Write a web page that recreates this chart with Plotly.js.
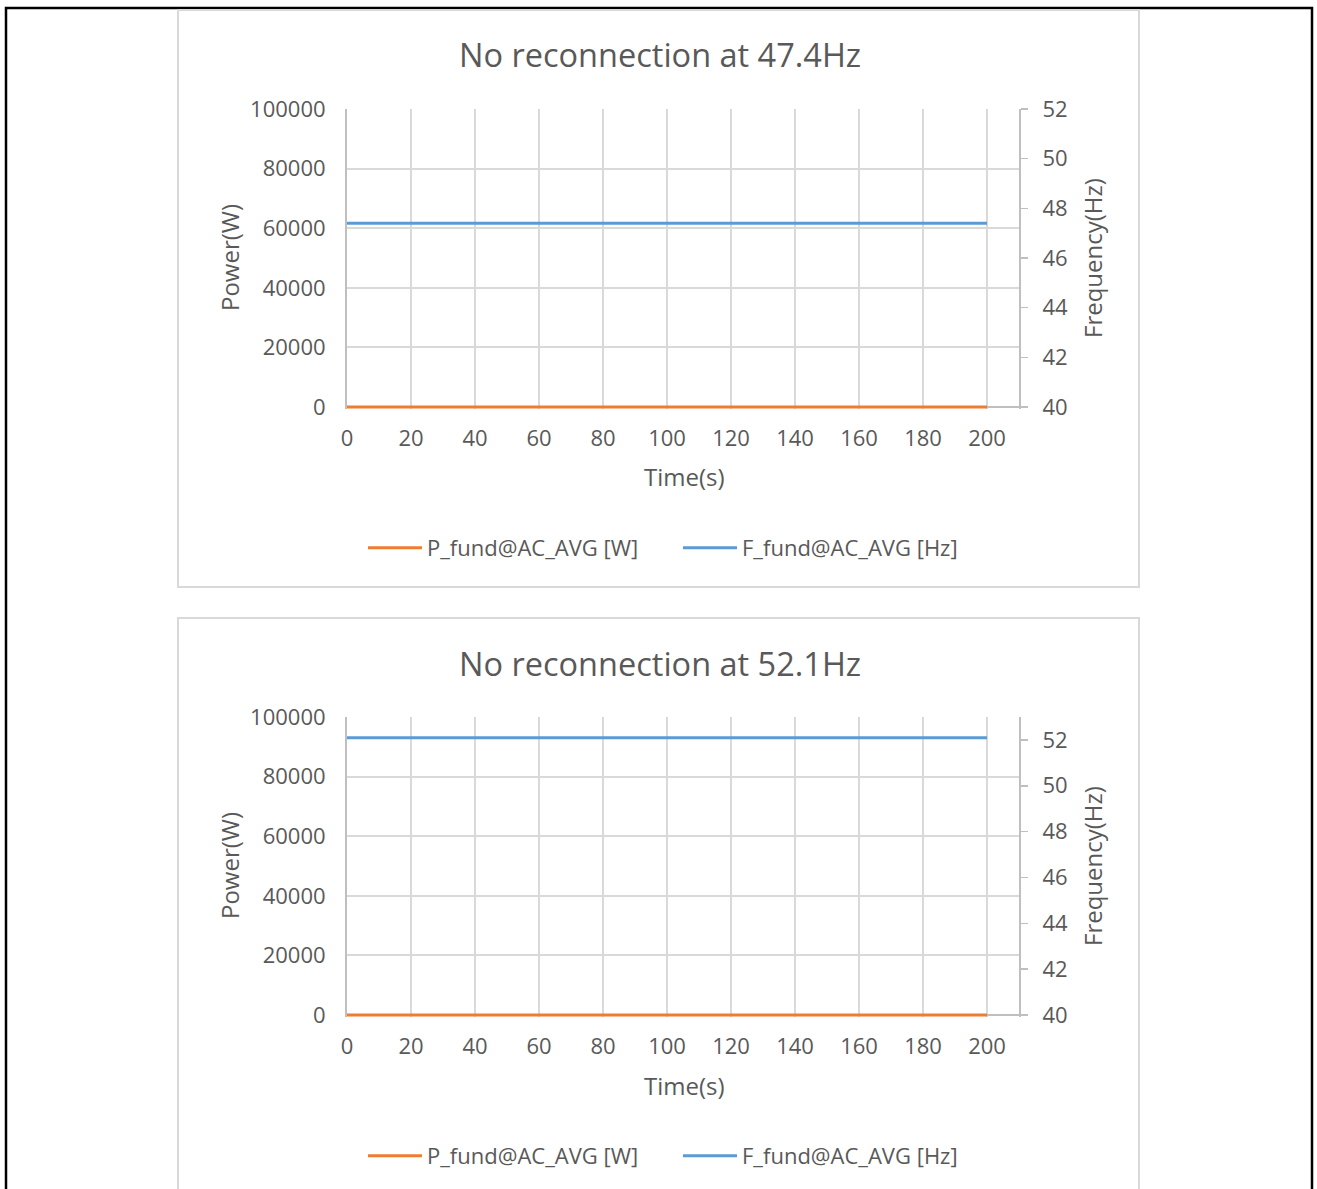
<!DOCTYPE html>
<html>
<head>
<meta charset="utf-8">
<script src="https://cdn.plot.ly/plotly-3.0.1.min.js"></script>
<style>
html,body{margin:0;padding:0;background:#fff;}
#chart{width:1317px;height:1189px;}
</style>
</head>
<body>
<div id="chart"></div>
<script>
// ---- data ----
const time_s = [0, 20, 40, 60, 80, 100, 120, 140, 160, 180, 200];
const power1_W = [0, 0, 0, 0, 0, 0, 0, 0, 0, 0, 0];
const freq1_Hz = [47.4, 47.4, 47.4, 47.4, 47.4, 47.4, 47.4, 47.4, 47.4, 47.4, 47.4];
const power2_W = [0, 0, 0, 0, 0, 0, 0, 0, 0, 0, 0];
const freq2_Hz = [52.1, 52.1, 52.1, 52.1, 52.1, 52.1, 52.1, 52.1, 52.1, 52.1, 52.1];
const chartTitles = ["No reconnection at 47.4Hz", "No reconnection at 52.1Hz"];
const powerName = "P_fund@AC_AVG [W]";
const freqName = "F_fund@AC_AVG [Hz]";
const xTitle = "Time(s)";
const yLeftTitle = "Power(W)";
const yRightTitle = "Frequency(Hz)";

// ---- layout helpers ----
const W = 1317, H = 1189;
const px = x => x / W;
const py = y => 1 - y / H;
const FONT = "Open Sans, Noto Sans, sans-serif";
const GREY = "#595959";
const ORANGE = "#ED7D31", BLUE = "#5B9BD5";
const GRID = "#d9d9d9", AXLINE = "#bfbfbf";

const traces = [
  {x: time_s, y: power1_W, name: powerName, type: "scatter", mode: "lines",
   xaxis: "x", yaxis: "y", legend: "legend", line: {color: ORANGE, width: 3}},
  {x: time_s, y: freq1_Hz, name: freqName, type: "scatter", mode: "lines",
   xaxis: "x", yaxis: "y2", legend: "legend", line: {color: BLUE, width: 3}},
  {x: time_s, y: power2_W, name: powerName, type: "scatter", mode: "lines",
   xaxis: "x2", yaxis: "y3", legend: "legend2", line: {color: ORANGE, width: 3}},
  {x: time_s, y: freq2_Hz, name: freqName, type: "scatter", mode: "lines",
   xaxis: "x2", yaxis: "y4", legend: "legend2", line: {color: BLUE, width: 3}}
];

const tickFont = {family: FONT, size: 22, color: GREY};

function xAxis(anchor) {
  return {
    domain: [px(347), px(1019)], anchor: anchor,
    range: [0, 210], tick0: 0, dtick: 20,
    showgrid: true, gridcolor: GRID, gridwidth: 2,
    showline: false, zeroline: false, ticks: "",
    tickfont: tickFont, ticklabelstandoff: 14, layer: "below traces",
    fixedrange: true
  };
}
function yLeft(anchor, yBottom, yTop) {
  return {
    domain: [py(yBottom + 2), py(yTop)], anchor: anchor,
    range: [-100000 / (yBottom - yTop) * 2, 100000], tick0: 0, dtick: 20000,
    tickformat: "d",
    showgrid: true, gridcolor: GRID, gridwidth: 2,
    showline: true, linecolor: AXLINE, linewidth: 2,
    zeroline: true, zerolinecolor: AXLINE, zerolinewidth: 2,
    ticks: "", tickfont: tickFont, ticklabelstandoff: 15, layer: "below traces",
    fixedrange: true
  };
}
function yRight(overlay, anchor, lo, hi, yBottom, yTop) {
  const perPx = (hi - lo) / (yBottom - yTop);
  return {
    overlaying: overlay, side: "right", anchor: anchor,
    range: [lo - 2 * perPx, hi], tick0: 40, dtick: 2,
    showgrid: false, zeroline: false,
    showline: true, linecolor: AXLINE, linewidth: 2,
    ticks: "outside", ticklen: 7, tickwidth: 1.5, tickcolor: AXLINE,
    tickfont: tickFont, ticklabelstandoff: 10, layer: "below traces",
    fixedrange: true
  };
}

function ann(text, x, y, size, angle) {
  return {text: text, x: px(x), y: py(y), xref: "paper", yref: "paper",
          xanchor: "center", yanchor: "middle", showarrow: false,
          textangle: angle || 0, font: {family: FONT, size: size, color: GREY}};
}

const legendBase = {orientation: "h", xanchor: "left", yanchor: "middle",
  itemwidth: 54, entrywidth: 246, entrywidthmode: "pixels",
  font: {family: FONT, size: 22, color: GREY}, bgcolor: "rgba(0,0,0,0)"};

const layout = {
  width: W, height: H,
  margin: {l: 0, r: 0, t: 0, b: 0},
  paper_bgcolor: "#ffffff", plot_bgcolor: "#ffffff",
  font: {family: FONT, color: GREY},
  xaxis: xAxis("y"),
  yaxis: yLeft("x", 407, 109),
  yaxis2: yRight("y", "x", 40, 52, 407, 109),
  xaxis2: xAxis("y3"),
  yaxis3: yLeft("x2", 1015, 717),
  yaxis4: yRight("y3", "x2", 40, 53, 1015, 717),
  legend: Object.assign({}, legendBase, {x: px(363), y: py(548)}),
  legend2: Object.assign({}, legendBase, {x: px(363), y: py(1156)}),
  annotations: [
    ann(chartTitles[0], 660, 55, 32.5),
    ann(chartTitles[1], 660, 663, 32.5),
    ann(yLeftTitle, 229, 258, 24, -90),
    ann(yRightTitle, 1092, 258, 24, -90),
    ann(xTitle, 684, 477, 24),
    ann(yLeftTitle, 229, 866, 24, -90),
    ann(yRightTitle, 1092, 866, 24, -90),
    ann(xTitle, 684, 1085, 24)
  ],
  shapes: [
    {type: "rect", xref: "paper", yref: "paper", x0: px(6), x1: px(1312), y0: -0.05, y1: py(8),
     line: {color: "#000000", width: 2.5}},
    {type: "rect", xref: "paper", yref: "paper", x0: px(178), x1: px(1139), y0: py(587), y1: py(10),
     line: {color: GRID, width: 2}},
    {type: "rect", xref: "paper", yref: "paper", x0: px(178), x1: px(1139), y0: -0.05, y1: py(618),
     line: {color: GRID, width: 2}}
  ]
};

Plotly.newPlot("chart", traces, layout, {displayModeBar: false, staticPlot: true});
</script>
</body>
</html>
